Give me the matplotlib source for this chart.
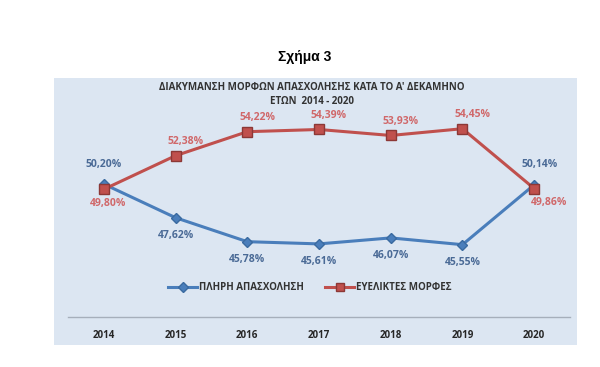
import matplotlib
matplotlib.use('Agg')
import matplotlib.pyplot as plt
from matplotlib.patches import Rectangle

years = ['2014', '2015', '2016', '2017', '2018', '2019', '2020']
full_time = [50.20, 47.62, 45.78, 45.61, 46.07, 45.55, 50.14]
flexible = [49.80, 52.38, 54.22, 54.39, 53.93, 54.45, 49.86]
full_label = 'ΠΛΗΡΗ ΑΠΑΣΧΟΛΗΣΗ'
flex_label = 'ΕΥΕΛΙΚΤΕΣ ΜΟΡΦΕΣ'

plt.rcParams['font.family'] = ['Open Sans', 'DejaVu Sans']

W, H = 600, 367
fig = plt.figure(figsize=(W / 100, H / 100), dpi=100)

# light blue chart panel, behind the axes
fig.patches.append(Rectangle((54 / W, 1 - 345 / H), (577 - 54) / W, (345 - 78) / H,
                             transform=fig.transFigure, facecolor='#dce6f2',
                             edgecolor='none', zorder=-10))

fig.text(305 / W, 1 - 57 / H, 'Σχήμα 3', ha='center', va='center',
         fontsize=10, fontweight='bold', family=['Liberation Sans', 'DejaVu Sans'])
fig.text(312 / W, 1 - 87 / H, 'ΔΙΑΚΥΜΑΝΣΗ ΜΟΡΦΩΝ ΑΠΑΣΧΟΛΗΣΗΣ ΚΑΤΑ ΤΟ Α\' ΔΕΚΑΜΗΝΟ',
         ha='center', va='center', fontsize=7, fontweight='bold', color='#333333')
fig.text(312 / W, 1 - 101 / H, 'ΕΤΩΝ  2014 - 2020', ha='center', va='center',
         fontsize=7, fontweight='bold', color='#333333')

ax = fig.add_axes([68 / W, 1 - 317 / H, (570 - 68) / W, (317 - 108.5) / H])
ax.set_facecolor('none')
ax.set_zorder(1)
x = list(range(len(years)))

ax.plot(x, full_time, color='#4a7ebb', lw=2.2, marker='D', ms=5.5,
        mfc='#4a7ebb', mec='#3a6aa0', label=full_label, zorder=3)
ax.plot(x, flexible, color='#c0504d', lw=2.2, marker='s', ms=6.5,
        mfc='#c0504d', mec='#8c3836', label=flex_label, zorder=4)

blue_txt = '#4a6a96'
red_txt = '#d0686a'
for i, v in enumerate(full_time):
    if i == 0:
        off = (0, 10)
    elif i == len(years) - 1:
        off = (4, 11)
    else:
        off = (0, -9)
    ax.annotate(f'{v:.2f}%'.replace('.', ','), (i, v), xytext=off,
                textcoords='offset points', ha='center',
                va='bottom' if off[1] > 0 else 'top', fontsize=7.5,
                fontweight='bold', color=blue_txt)
for i, v in enumerate(flexible):
    if i == 0:
        off = (3, -6)
    elif i == len(years) - 1:
        off = (11, -6)
    else:
        off = (7, 6)
    ax.annotate(f'{v:.2f}%'.replace('.', ','), (i, v), xytext=off,
                textcoords='offset points', ha='center',
                va='bottom' if off[1] > 0 else 'top', fontsize=7.5,
                fontweight='bold', color=red_txt)

ax.set_xlim(-0.5, len(years) - 0.5)
ax.set_ylim(40, 56)
ax.set_xticks(x)
ax.set_xticklabels(years, fontsize=7, fontweight='bold', color='#262626')
ax.tick_params(axis='x', length=0, pad=9)
ax.set_yticks([])
for side in ['left', 'right', 'top']:
    ax.spines[side].set_visible(False)
ax.spines['bottom'].set_color('#a6afbb')
ax.spines['bottom'].set_linewidth(1)

leg = ax.legend(loc='center', bbox_to_anchor=((310 - 68) / (570 - 68), (317 - 288) / (317 - 108.5)),
                ncol=2, frameon=False, fontsize=7, handlelength=3.0,
                columnspacing=2.2, handletextpad=0.2, markerscale=0.85)
for t in leg.get_texts():
    t.set_color('#333333')
    t.set_fontweight('bold')

fig.savefig('out.png', dpi=100)
